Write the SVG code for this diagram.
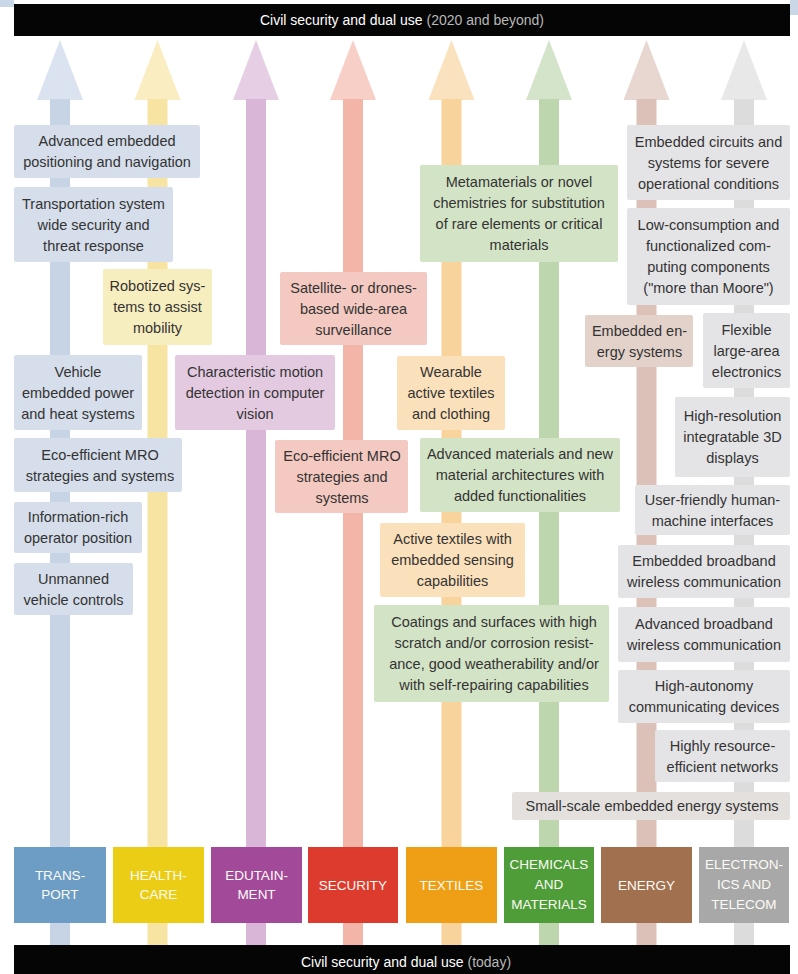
<svg xmlns="http://www.w3.org/2000/svg" width="798" height="974" viewBox="0 0 798 974">
<style>
.bar{fill:#050505}
.bt{font-family:"Liberation Sans",Arial,sans-serif;font-size:14px;fill:#ffffff;text-anchor:middle}
.dim{fill:#b8b8b8}
.t{font-family:"Liberation Sans",Arial,sans-serif;font-size:14.5px;fill:#333333;text-anchor:middle}
.c{font-family:"Liberation Sans",Arial,sans-serif;font-size:13.5px;fill:#fbfbf5;text-anchor:middle}
.head{fill-opacity:0.65}
.tr{fill:#d5deea}.hc{fill:#f7eec0}.ed{fill:#e4cae1}.se{fill:#f3c9c1}.tx{fill:#fbe1bb}.ch{fill:#d3e3c6}.en{fill:#e2d2ca}.el{fill:#e4e4e6}.sm{fill:#e3e0de}
</style>
<rect x="0" y="0" width="14" height="7" fill="#c9d7e6"/>
<rect x="790" y="0" width="8" height="15" fill="#c9d7e6"/>
<rect class="bar" x="14" y="4" width="776" height="32"/>
<text class="bt" x="402" y="25">Civil security and dual use <tspan class="dim">(2020 and beyond)</tspan></text>
<rect class="bar" x="14" y="945" width="776" height="29"/>
<text class="bt" x="406" y="967">Civil security and dual use <tspan class="dim">(today)</tspan></text>

<g id="connectors">
<g fill="#c6d4e6"><polygon class="head" points="60,40 83,100 37,100"/><rect x="50" y="99" width="20" height="846"/></g>
<g fill="#f8e4a2"><polygon class="head" points="157.5,40 180.5,100 134.5,100"/><rect x="147.5" y="99" width="20" height="846"/></g>
<g fill="#d9b6d7"><polygon class="head" points="256,40 279,100 233,100"/><rect x="246" y="99" width="20" height="846"/></g>
<g fill="#f3b5a8"><polygon class="head" points="353,40 376,100 330,100"/><rect x="343" y="99" width="20" height="846"/></g>
<g fill="#f9d39c"><polygon class="head" points="451.5,40 474.5,100 428.5,100"/><rect x="441.5" y="99" width="20" height="846"/></g>
<g fill="#bdd6ae"><polygon class="head" points="549,40 572,100 526,100"/><rect x="539" y="99" width="20" height="846"/></g>
<g fill="#dcc1b9"><polygon class="head" points="646.5,40 669.5,100 623.5,100"/><rect x="636.5" y="99" width="20" height="846"/></g>
<g fill="#dcdcdd"><polygon class="head" points="744,40 767,100 721,100"/><rect x="734" y="99" width="20" height="846"/></g>
</g>

<g id="cat-transport"><rect x="14" y="847" width="92" height="76" fill="#6d9cc4"/><text class="c" x="60" y="880">TRANS-</text><text class="c" x="60" y="899">PORT</text></g>
<g id="cat-healthcare"><rect x="113" y="847" width="91" height="76" fill="#eccd16"/><text class="c" x="158.5" y="880">HEALTH-</text><text class="c" x="158.5" y="899">CARE</text></g>
<g id="cat-edutainment"><rect x="211" y="847" width="91" height="76" fill="#a24a99"/><text class="c" x="256.5" y="880">EDUTAIN-</text><text class="c" x="256.5" y="899">MENT</text></g>
<g id="cat-security"><rect x="308" y="847" width="90" height="76" fill="#de3b2f"/><text class="c" x="353" y="890">SECURITY</text></g>
<g id="cat-textiles"><rect x="406" y="847" width="91" height="76" fill="#ef9f16"/><text class="c" x="451.5" y="890">TEXTILES</text></g>
<g id="cat-chemicals"><rect x="504" y="847" width="90" height="76" fill="#4f9d38"/><text class="c" x="549" y="869">CHEMICALS</text><text class="c" x="549" y="889">AND</text><text class="c" x="549" y="909">MATERIALS</text></g>
<g id="cat-energy"><rect x="601" y="847" width="91" height="76" fill="#a1704f"/><text class="c" x="646.5" y="890">ENERGY</text></g>
<g id="cat-electronics"><rect x="699" y="847" width="90" height="76" fill="#a8a8a8"/><text class="c" x="744" y="869">ELECTRON-</text><text class="c" x="744" y="889">ICS AND</text><text class="c" x="744" y="909">TELECOM</text></g>

<g id="n1"><rect class="tr" x="14" y="125" width="186" height="53" rx="2"/><text class="t" x="107" y="146">Advanced embedded</text><text class="t" x="107" y="167">positioning and navigation</text></g>
<g id="n2"><rect class="tr" x="14" y="187" width="159" height="75" rx="2"/><text class="t" x="93.5" y="208.5">Transportation system</text><text class="t" x="93.5" y="229.5">wide security and</text><text class="t" x="93.5" y="250.5">threat response</text></g>
<g id="n3"><rect class="hc" x="103" y="269" width="109" height="76" rx="2"/><text class="t" x="157.5" y="291">Robotized sys-</text><text class="t" x="157.5" y="312">tems to assist</text><text class="t" x="157.5" y="333">mobility</text></g>
<g id="n4"><rect class="se" x="280" y="272" width="147" height="73" rx="2"/><text class="t" x="353.5" y="292.5">Satellite- or drones-</text><text class="t" x="353.5" y="313.5">based wide-area</text><text class="t" x="353.5" y="334.5">surveillance</text></g>
<g id="n5"><rect class="tr" x="14" y="355" width="128" height="75" rx="2"/><text class="t" x="78" y="376.5">Vehicle</text><text class="t" x="78" y="397.5">embedded power</text><text class="t" x="78" y="418.5">and heat systems</text></g>
<g id="n6"><rect class="ed" x="175" y="355" width="160" height="75" rx="2"/><text class="t" x="255" y="376.5">Characteristic motion</text><text class="t" x="255" y="397.5">detection in computer</text><text class="t" x="255" y="418.5">vision</text></g>
<g id="n7"><rect class="tr" x="14" y="438" width="168" height="54" rx="2"/><text class="t" x="100" y="459.5">Eco-efficient MRO</text><text class="t" x="100" y="480.5">strategies and systems</text></g>
<g id="n8"><rect class="se" x="275" y="440" width="133" height="73" rx="2"/><text class="t" x="342" y="460.5">Eco-efficient MRO</text><text class="t" x="342" y="481.5">strategies and</text><text class="t" x="342" y="502.5">systems</text></g>
<g id="n9"><rect class="tr" x="14" y="502" width="128" height="51" rx="2"/><text class="t" x="78" y="522">Information-rich</text><text class="t" x="78" y="543">operator position</text></g>
<g id="n10"><rect class="tr" x="14" y="563" width="119" height="52" rx="2"/><text class="t" x="73.5" y="583.5">Unmanned</text><text class="t" x="73.5" y="604.5">vehicle controls</text></g>
<g id="n11"><rect class="tx" x="397" y="356" width="108" height="74" rx="2"/><text class="t" x="451" y="377">Wearable</text><text class="t" x="451" y="398">active textiles</text><text class="t" x="451" y="419">and clothing</text></g>
<g id="n12"><rect class="ch" x="420" y="165" width="198" height="97" rx="2"/><text class="t" x="519" y="187">Metamaterials or novel</text><text class="t" x="519" y="208">chemistries for substitution</text><text class="t" x="519" y="229">of rare elements or critical</text><text class="t" x="519" y="250">materials</text></g>
<g id="n13"><rect class="ch" x="420" y="438" width="200" height="74" rx="2"/><text class="t" x="520" y="459">Advanced materials and new</text><text class="t" x="520" y="480">material architectures with</text><text class="t" x="520" y="501">added functionalities</text></g>
<g id="n14"><rect class="tx" x="380" y="523" width="145" height="74" rx="2"/><text class="t" x="452.5" y="544">Active textiles with</text><text class="t" x="452.5" y="565">embedded sensing</text><text class="t" x="452.5" y="586">capabilities</text></g>
<g id="n15"><rect class="ch" x="374" y="605" width="235" height="97" rx="2"/><text class="t" x="494" y="627">Coatings and surfaces with high</text><text class="t" x="494" y="648">scratch and/or corrosion resist-</text><text class="t" x="494" y="669">ance, good weatherability and/or</text><text class="t" x="494" y="690">with self-repairing capabilities</text></g>
<g id="n16"><rect class="el" x="627" y="125" width="163" height="75" rx="2"/><text class="t" x="708.5" y="146.5">Embedded circuits and</text><text class="t" x="708.5" y="167.5">systems for severe</text><text class="t" x="708.5" y="188.5">operational conditions</text></g>
<g id="n17"><rect class="el" x="627" y="208" width="163" height="97" rx="2"/><text class="t" x="708.5" y="230">Low-consumption and</text><text class="t" x="708.5" y="251">functionalized com-</text><text class="t" x="708.5" y="272">puting components</text><text class="t" x="708.5" y="293">("more than Moore")</text></g>
<g id="n18"><rect class="en" x="585" y="315" width="108" height="52" rx="2"/><text class="t" x="639.5" y="335.5">Embedded en-</text><text class="t" x="639.5" y="356.5">ergy systems</text></g>
<g id="n19"><rect class="el" x="703" y="313" width="87" height="75" rx="2"/><text class="t" x="746.5" y="334.5">Flexible</text><text class="t" x="746.5" y="355.5">large-area</text><text class="t" x="746.5" y="376.5">electronics</text></g>
<g id="n20"><rect class="el" x="675" y="397" width="115" height="80" rx="2"/><text class="t" x="732.5" y="421">High-resolution</text><text class="t" x="732.5" y="442">integratable 3D</text><text class="t" x="732.5" y="463">displays</text></g>
<g id="n21"><rect class="el" x="635" y="485" width="155" height="50" rx="2"/><text class="t" x="712.5" y="504.5">User-friendly human-</text><text class="t" x="712.5" y="525.5">machine interfaces</text></g>
<g id="n22"><rect class="el" x="618" y="545" width="172" height="53" rx="2"/><text class="t" x="704" y="566">Embedded broadband</text><text class="t" x="704" y="587">wireless communication</text></g>
<g id="n23"><rect class="el" x="618" y="607" width="172" height="55" rx="2"/><text class="t" x="704" y="629">Advanced broadband</text><text class="t" x="704" y="650">wireless communication</text></g>
<g id="n24"><rect class="el" x="618" y="670" width="172" height="53" rx="2"/><text class="t" x="704" y="691">High-autonomy</text><text class="t" x="704" y="712">communicating devices</text></g>
<g id="n25"><rect class="el" x="655" y="730" width="135" height="52" rx="2"/><text class="t" x="722.5" y="750.5">Highly resource-</text><text class="t" x="722.5" y="771.5">efficient networks</text></g>
<g id="n26"><rect class="sm" x="512" y="792" width="278" height="28" rx="2"/><text class="t" x="652" y="811">Small-scale embedded energy systems</text></g>
</svg>
